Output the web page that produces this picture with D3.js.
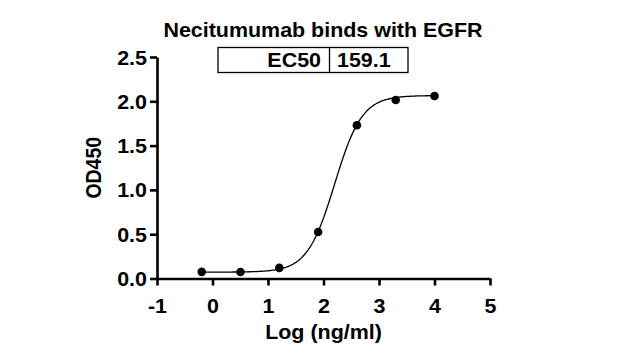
<!DOCTYPE html>
<html><head><meta charset="utf-8">
<script src="https://cdn.jsdelivr.net/npm/d3@7"></script>
<style>body{margin:0;background:#fff}svg{display:block}text{font-family:"Liberation Sans",Arial,sans-serif;font-weight:bold;fill:#000}</style>
</head><body>
<script>
const logConc = [-0.194, 0.505, 1.204, 1.903, 2.602, 3.301, 4.0];
const od450 = [0.075, 0.073, 0.12, 0.525, 1.73, 2.015, 2.06];
const xTicks = [-1, 0, 1, 2, 3, 4, 5];
const yTicks = [0.0, 0.5, 1.0, 1.5, 2.0, 2.5];
const fitParams = [0.072, 2.065, Math.log10(159.1), 1.76]; // bottom, top, logEC50, hill
const tableLabels = ["EC50", "159.1"];
const title = "Necitumumab binds with EGFR";

const W = 620, H = 360;
const FS = 19.5, SX = 1.1;
const svg = d3.select("body").append("svg").attr("width", W).attr("height", H);
const x = d3.scaleLinear().domain([-1, 5]).range([157, 490]);
const y = d3.scaleLinear().domain([0, 2.5]).range([278.5, 57]);

// text helper: horizontally stretched text anchored at (px,py)
function label(parent, px, py, str, anchor) {
  return parent.append("text")
    .attr("transform", `translate(${px},${py}) scale(${SX},1)`)
    .attr("text-anchor", anchor || "middle").style("font-size", FS + "px").text(str);
}

const xAxis = svg.append("g").attr("transform", `translate(0,${y(0)})`)
  .call(d3.axisBottom(x).tickValues(xTicks).tickSize(7).tickSizeOuter(0).tickPadding(4).tickFormat(d3.format("d")));
const yAxis = svg.append("g").attr("transform", `translate(${x(-1)},0)`)
  .call(d3.axisLeft(y).tickValues(yTicks).tickSize(7).tickSizeOuter(0).tickPadding(3).tickFormat(d3.format(".1f")));
[xAxis, yAxis].forEach(g => {
  g.select(".domain").attr("stroke", "#000").attr("stroke-width", 2.6);
  g.selectAll(".tick line").attr("stroke", "#000").attr("stroke-width", 2.6);
  g.selectAll(".tick text").style("font-size", FS + "px").style("font-family", "'Liberation Sans',Arial,sans-serif").style("font-weight", "bold");
});
xAxis.selectAll(".tick text").text(d => d < 0 ? "-" + Math.abs(d) : d)
  .attr("y", null).attr("dy", null).attr("transform", `translate(0,34) scale(${SX},1)`);
yAxis.selectAll(".tick text").attr("x", null).attr("dy", null)
  .attr("transform", `translate(-10,7) scale(${SX},1)`);

// fitted 4PL curve
const [fitBot, fitTop, fitLec, fitHill] = fitParams;
const f = lx => fitBot + (fitTop - fitBot) / (1 + Math.pow(10, (fitLec - lx) * fitHill));
const curveX = d3.range(logConc[0], logConc[logConc.length - 1] + 0.0001, 0.02);
svg.append("path").datum(curveX)
  .attr("d", d3.line().x(d => x(d)).y(d => y(f(d))))
  .attr("fill", "none").attr("stroke", "#000").attr("stroke-width", 1.3);

svg.append("g").selectAll("circle").data(logConc).join("circle")
  .attr("cx", d => x(d)).attr("cy", (d, i) => y(od450[i])).attr("r", 4.3).attr("fill", "#000");

label(svg, 323, 37, title);

// EC50 table
const tb = svg.append("g");
tb.append("rect").attr("x", 218).attr("y", 47.5).attr("width", 190).attr("height", 25).attr("fill", "none").attr("stroke", "#000").attr("stroke-width", 1.3);
tb.append("line").attr("x1", 329.5).attr("x2", 329.5).attr("y1", 47.5).attr("y2", 72.5).attr("stroke", "#000").attr("stroke-width", 1.3);
label(tb, 321, 67, tableLabels[0], "end");
label(tb, 337, 67, tableLabels[1], "start");

svg.append("text").attr("transform", `translate(101,${(y(0)+y(2.5))/2}) scale(${SX},1) rotate(-90)`)
  .attr("text-anchor", "middle").style("font-size", FS + "px").text("OD450");
label(svg, (x(-1)+x(5))/2, 339, "Log (ng/ml)");
</script>
</body></html>
